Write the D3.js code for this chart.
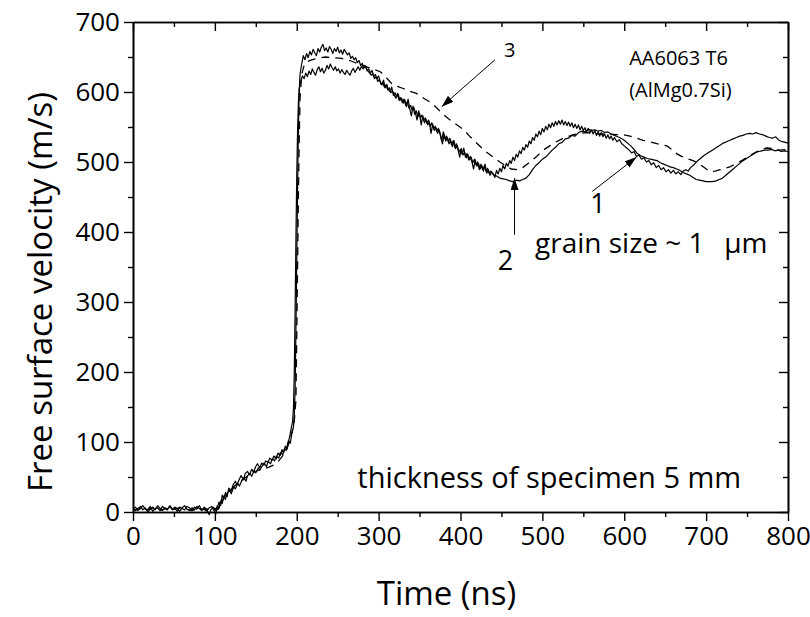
<!DOCTYPE html>
<html>
<head>
<meta charset="utf-8">
<script src="https://cdn.jsdelivr.net/npm/d3@7"></script>
<style>
  html, body { margin: 0; padding: 0; background: #fff; }
  svg { display: block; }
  text { font-family: "Open Sans", "Noto Sans", sans-serif; fill: #000; }
</style>
</head>
<body>
<svg id="chart" width="810" height="617"></svg>
<script>
// ---------- data (time ns, velocity m/s) ----------
const xMajorTicks = [0, 100, 200, 300, 400, 500, 600, 700, 800];
const yMajorTicks = [0, 100, 200, 300, 400, 500, 600, 700];
const xLabel = "Time (ns)";
const yLabel = "Free surface velocity (m/s)";

// solid curve (earlier oscillation, noisy)
const curveA = [
 [0,4],[3,7],[6,2],[9,5],[12,9],[15,4],[18,3],[21,8],[24,1],[27,5],[30,6],[33,2],[36,8],[39,5],[42,3],[45,9],[48,4],[51,6],[54,1],[57,7],[60,5],[63,3],[66,8],[69,6],[72,2],[75,7],[78,4],[81,9],[84,3],[87,5],[90,1],[93,6],[96,8],[99,2],[101,-3],[103,6],[105,14],[107,9],[109,24],[111,19],[113,28],[115,22],[117,34],[120,30],[122,38],[125,44],[127,39],[130,47],[132,52],[135,46],[137,55],[140,58],[142,53],[145,61],[147,57],[150,65],[152,69],[155,63],[157,70],[160,67],[162,73],[165,71],[167,77],[170,74],[172,80],[175,76],[177,84],[180,81],[182,89],[184,85],[186,94],[188,90],[190,102],[192,98],[194,112],[196,122],[197,138],[198,175],[199,260],[200,360],[201,460],[202,545],[203,600],[204,625],[206,640],[208,652],[210,646],[212,655],[214,649],[216,658],[218,653],[220,661],[222,656],[224,652],[226,662],[228,657],[230,664],[232,668],[234,659],[236,663],[238,657],[240,665],[242,661],[244,655],[246,662],[248,658],[250,664],[252,656],[254,660],[256,654],[258,661],[260,657],[262,653],[264,656],[266,648],[268,651],[270,646],[272,649],[274,642],[276,645],[278,638],[280,641],[282,634],[284,637],[286,630],[288,633],[290,627],[292,631],[294,622],[296,625],[298,619],[300,623],[302,614],[304,610],[306,617],[308,606],[310,611],[312,603],[314,600],[316,607],[318,595],[320,599],[322,593],[324,597],[326,588],[328,591],[330,584],[332,589],[334,579],[336,590],[338,576],[340,566],[342,580],[344,568],[346,573],[348,565],[350,569],[352,553],[354,566],[356,556],[358,561],[360,553],[362,557],[364,541],[366,554],[368,545],[370,549],[372,541],[374,546],[376,537],[378,526],[380,540],[382,530],[384,535],[386,526],[388,531],[390,522],[392,531],[394,519],[396,524],[398,514],[400,518],[402,511],[404,520],[406,507],[408,512],[410,503],[412,508],[414,500],[416,490],[418,503],[420,494],[422,498],[424,490],[426,495],[428,487],[430,497],[432,484],[434,489],[436,481],[438,486],[440,483],[442,478],[444,488],[446,483],[448,491],[450,486],[452,495],[454,490],[456,498],[458,494],[460,502],[462,498],[464,507],[466,502],[468,511],[470,507],[472,516],[474,512],[476,521],[478,517],[480,525],[482,521],[484,530],[486,526],[488,535],[490,531],[492,540],[494,536],[496,544],[498,539],[500,548],[502,543],[504,551],[506,546],[508,554],[510,549],[512,556],[514,551],[516,558],[518,553],[520,559],[522,554],[524,560],[526,553],[528,558],[530,552],[532,557],[534,551],[536,556],[538,549],[540,554],[542,548],[544,553],[546,546],[548,551],[550,545],[552,549],[554,543],[556,548],[558,541],[560,546],[562,540],[564,545],[566,538],[568,543],[570,537],[572,542],[574,536],[576,540],[578,534],[580,539],[582,533],[584,537],[586,531],[588,535],[591,529],[594,532],[597,526],[600,523],[603,520],[606,517],[609,513],[612,515],[615,508],[618,510],[621,504],[624,506],[627,500],[630,502],[633,496],[636,499],[639,492],[642,495],[645,489],[648,492],[651,486],[654,489],[657,484],[660,488],[663,483],[666,486],[669,482],[672,487],[675,489],[678,487],[681,492],[685,496],[689,501],[693,505],[697,509],[701,512],[705,515],[709,518],[713,521],[717,524],[721,527],[725,529],[729,531],[733,533],[737,535],[741,537],[745,538],[749,540],[753,541],[757,540],[761,542],[765,540],[769,539],[773,537],[777,535],[781,534],[785,536],[789,531],[793,529],[797,528],[800,527]
];

// solid curve (later oscillation)
const curveB = [
 [0,6],[3,2],[6,5],[9,8],[12,3],[15,6],[18,0],[21,4],[24,7],[27,3],[30,9],[33,5],[36,2],[39,6],[42,4],[45,8],[48,3],[51,7],[54,5],[57,1],[60,6],[63,9],[66,4],[69,2],[72,6],[75,3],[78,8],[81,5],[84,2],[87,7],[90,4],[93,-4],[95,3],[98,7],[101,2],[103,9],[105,5],[107,16],[109,12],[111,23],[113,18],[115,27],[118,31],[120,26],[123,36],[125,33],[128,41],[130,37],[133,45],[135,49],[138,44],[140,52],[143,55],[145,51],[148,59],[150,56],[153,63],[155,60],[158,66],[160,70],[163,65],[165,72],[168,69],[170,76],[173,73],[175,80],[178,77],[180,85],[183,82],[185,91],[187,88],[189,98],[191,106],[193,118],[195,130],[196,150],[197,200],[198,290],[199,390],[200,480],[201,545],[202,585],[203,605],[205,616],[207,623],[209,619],[211,627],[213,622],[215,630],[217,625],[219,633],[221,628],[223,624],[225,632],[227,636],[229,629],[231,634],[233,627],[235,631],[237,638],[239,633],[241,640],[243,635],[245,631],[247,636],[249,630],[251,633],[253,627],[255,632],[257,628],[259,625],[261,631],[263,627],[265,624],[267,630],[269,634],[271,628],[273,632],[275,636],[277,631],[279,637],[281,633],[283,638],[285,634],[287,630],[289,627],[291,624],[293,626],[295,619],[297,622],[299,615],[301,618],[303,611],[305,614],[307,607],[309,610],[311,603],[313,606],[315,599],[317,602],[319,596],[321,591],[323,598],[325,588],[327,592],[329,585],[331,590],[333,581],[335,586],[337,577],[339,581],[341,574],[343,578],[345,570],[347,560],[349,573],[351,563],[353,567],[355,559],[357,563],[359,555],[361,560],[363,551],[365,556],[367,547],[369,551],[371,544],[373,548],[375,540],[377,530],[379,543],[381,533],[383,537],[385,529],[387,534],[389,525],[391,530],[393,521],[395,526],[397,518],[399,507],[401,519],[403,510],[405,514],[407,506],[409,511],[411,503],[413,507],[415,499],[417,504],[419,496],[421,500],[423,489],[425,497],[427,489],[429,494],[431,487],[433,491],[435,484],[437,487],[440,482],[444,480],[448,477],[452,476],[456,475],[460,473],[464,472],[468,474],[472,473],[476,475],[480,477],[484,482],[488,489],[492,495],[496,499],[500,504],[504,507],[508,512],[512,517],[516,521],[520,526],[524,528],[528,533],[532,534],[536,538],[540,537],[544,542],[548,544],[552,543],[556,547],[560,545],[564,546],[568,544],[572,545],[576,542],[580,543],[584,540],[588,538],[592,536],[596,534],[600,531],[604,527],[608,523],[612,518],[616,512],[620,509],[624,507],[628,505],[632,504],[636,503],[640,502],[644,499],[648,497],[652,495],[656,493],[660,492],[664,490],[668,488],[672,485],[676,483],[680,481],[684,478],[688,475],[692,474],[696,473],[700,472],[704,472],[708,472],[712,473],[716,475],[720,477],[724,481],[728,485],[732,489],[736,493],[740,497],[744,501],[748,504],[752,507],[756,510],[760,513],[764,515],[768,516],[772,517],[776,517],[780,518],[784,516],[788,517],[792,515],[796,516],[800,515]
];

// dashed curve (3)
const curveC = [
 [0,2],[8,5],[16,3],[24,6],[32,2],[40,5],[48,3],[56,6],[64,4],[72,2],[80,5],[88,3],[96,6],[104,4],[108,14],[112,22],[118,30],[124,37],[130,43],[136,48],[142,53],[148,57],[154,60],[160,62],[166,64],[172,67],[178,73],[184,82],[188,90],[192,104],[195,118],[197,130],[199,160],[200,250],[201,350],[202,450],[203,530],[204,590],[206,625],[209,638],[212,643],[218,646],[225,648],[235,650],[245,649],[255,648],[265,645],[275,640],[285,636],[295,632],[302,629],[309,621],[316,612],[323,608],[330,605],[338,601],[346,598],[355,591],[365,584],[372,576],[379,568],[385,562],[391,557],[398,551],[404,546],[411,537],[418,529],[426,520],[434,512],[441,506],[448,500],[455,495],[462,490],[469,489],[476,492],[485,500],[493,508],[501,517],[509,523],[517,529],[524,533],[530,536],[538,539],[546,541],[554,542],[562,541],[570,540],[580,540],[590,539],[599,539],[607,537],[615,534],[623,531],[631,529],[641,526],[652,523],[658,518],[664,512],[670,508],[676,505],[684,502],[692,497],[699,491],[705,486],[711,487],[717,489],[723,491],[729,493],[737,498],[745,503],[753,509],[762,515],[768,518],[774,520],[782,519],[790,517],[800,518]
];

// annotation arrows (data coordinates: from -> tip)
const arrow3 = {from: [442, 646], to: [377, 579]};
const arrow1 = {from: [561, 458], to: [615, 507]};
const arrow2 = {from: [466, 396], to: [466, 477]};

// ---------- drawing ----------
const svg = d3.select("#chart");
const L = 133, R = 788, T = 22, B = 512;
const x = d3.scaleLinear().domain([0, 800]).range([L, R]);
const y = d3.scaleLinear().domain([0, 700]).range([B, T]);

const xMinor = d3.range(0, 801, 50).filter(d => d % 100 !== 0);
const yMinor = d3.range(0, 701, 50).filter(d => d % 100 !== 0);

function styleAxis(g) {
  g.selectAll("path.domain").attr("stroke", "#000").attr("stroke-width", 1.6);
  g.selectAll(".tick line").attr("stroke", "#000").attr("stroke-width", 1.4);
  g.selectAll(".tick text").style("font-size", "26px").attr("fill", "#000");
}

// bottom axis
svg.append("g").attr("transform", `translate(0,${B})`)
  .call(d3.axisBottom(x).tickValues(xMajorTicks).tickSize(9).tickSizeOuter(0).tickPadding(6).tickFormat(d3.format("d")))
  .call(styleAxis);
svg.append("g").attr("transform", `translate(0,${B})`)
  .call(d3.axisBottom(x).tickValues(xMinor).tickSize(5).tickSizeOuter(0).tickFormat(""))
  .call(styleAxis);
// top axis (inward ticks)
svg.append("g").attr("transform", `translate(0,${T})`)
  .call(d3.axisTop(x).tickValues(xMajorTicks).tickSize(-9).tickSizeOuter(0).tickFormat(""))
  .call(styleAxis);
svg.append("g").attr("transform", `translate(0,${T})`)
  .call(d3.axisTop(x).tickValues(xMinor).tickSize(-5).tickSizeOuter(0).tickFormat(""))
  .call(styleAxis);
// left axis
svg.append("g").attr("transform", `translate(${L},0)`)
  .call(d3.axisLeft(y).tickValues(yMajorTicks).tickSize(9).tickSizeOuter(0).tickPadding(4).tickFormat(d3.format("d")))
  .call(styleAxis);
svg.append("g").attr("transform", `translate(${L},0)`)
  .call(d3.axisLeft(y).tickValues(yMinor).tickSize(5).tickSizeOuter(0).tickFormat(""))
  .call(styleAxis);
// right axis (inward ticks)
svg.append("g").attr("transform", `translate(${R},0)`)
  .call(d3.axisRight(y).tickValues(yMajorTicks).tickSize(-9).tickSizeOuter(0).tickFormat(""))
  .call(styleAxis);
svg.append("g").attr("transform", `translate(${R},0)`)
  .call(d3.axisRight(y).tickValues(yMinor).tickSize(-5).tickSizeOuter(0).tickFormat(""))
  .call(styleAxis);

// clip
svg.append("clipPath").attr("id", "plotclip").append("rect")
  .attr("x", L).attr("y", T).attr("width", R - L).attr("height", B - T + 4);

const line = d3.line().x(d => x(d[0])).y(d => y(d[1]));
const plot = svg.append("g").attr("clip-path", "url(#plotclip)");
plot.append("path").datum(curveC).attr("d", line)
  .attr("fill", "none").attr("stroke", "#000").attr("stroke-width", 1.3)
  .attr("stroke-dasharray", "8,6");
plot.append("path").datum(curveB).attr("d", line)
  .attr("fill", "none").attr("stroke", "#000").attr("stroke-width", 1.2)
  .attr("stroke-linejoin", "round");
plot.append("path").datum(curveA).attr("d", line)
  .attr("fill", "none").attr("stroke", "#000").attr("stroke-width", 1.2)
  .attr("stroke-linejoin", "round");

// arrow marker
svg.append("defs").append("marker")
  .attr("id", "arrowhead").attr("viewBox", "0 0 12 8")
  .attr("refX", 12).attr("refY", 4)
  .attr("markerWidth", 12).attr("markerHeight", 8)
  .attr("markerUnits", "userSpaceOnUse")
  .attr("orient", "auto")
  .append("path").attr("d", "M0,0 L12,4 L0,8 Z").attr("fill", "#000");

[arrow3, arrow1, arrow2].forEach(a => {
  svg.append("line")
    .attr("x1", x(a.from[0])).attr("y1", y(a.from[1]))
    .attr("x2", x(a.to[0])).attr("y2", y(a.to[1]))
    .attr("stroke", "#000").attr("stroke-width", 1)
    .attr("marker-end", "url(#arrowhead)");
});

// texts
function txt(s, px, py, size, anchor) {
  return svg.append("text").attr("x", px).attr("y", py)
    .attr("text-anchor", anchor || "start").style("font-size", size + "px").text(s);
}
txt("3", x(460), 57, 20, "middle");
txt("AA6063 T6", x(606), 65, 20);
txt("(AlMg0.7Si)", x(606), 97, 20);
txt("1", x(568), 213, 27, "middle");
txt("2", x(455), 270, 27, "middle");
txt("grain size ~ 1", x(491), 253, 28);
txt("\u03bcm", x(722), 253, 28);
txt("thickness of specimen 5 mm", x(274), 488, 29);

// axis titles
svg.append("text").attr("x", (L + R) / 2 - 14).attr("y", 605)
  .attr("text-anchor", "middle").style("font-size", "33px").text(xLabel);
svg.append("text").attr("transform", `translate(52,${(T + B) / 2 + 25}) rotate(-90)`)
  .attr("text-anchor", "middle").style("font-size", "33px").text(yLabel);
</script>
</body>
</html>
